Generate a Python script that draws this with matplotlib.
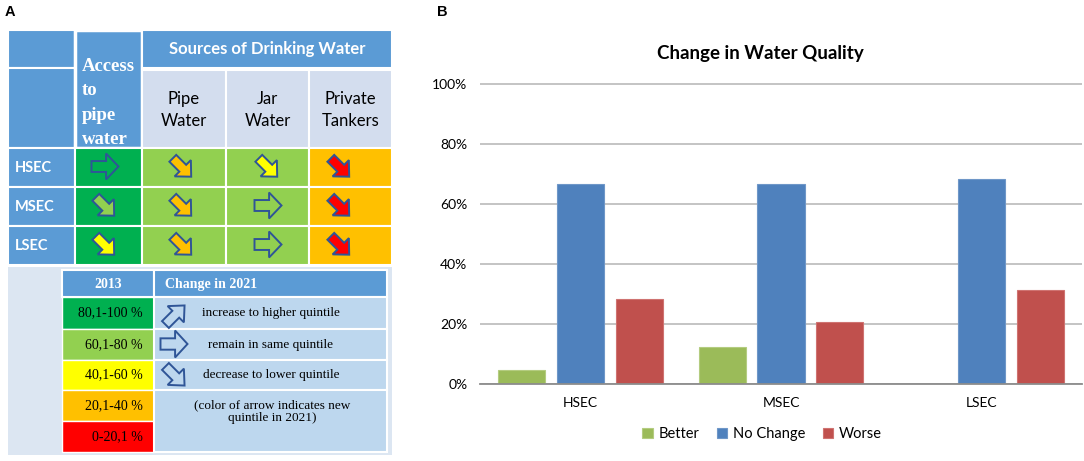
import numpy as np
import matplotlib
matplotlib.use("Agg")
import matplotlib.pyplot as plt
from matplotlib.patches import Rectangle, Polygon
from matplotlib.ticker import PercentFormatter

# ---- data: panel A (quintiles 1=lowest .. 5=highest) ----
groups = ["HSEC", "MSEC", "LSEC"]
columns = ["Access to pipe water", "Pipe\nWater", "Jar\nWater", "Private\nTankers"]
quintile_2013 = [[5, 4, 4, 2],
                 [5, 4, 4, 2],
                 [5, 4, 4, 2]]
quintile_2021 = [[5, 2, 3, 1],
                 [4, 2, 4, 1],
                 [3, 2, 4, 1]]
quintile_labels = ["0-20,1 %", "20,1-40 %", "40,1-60 %", "60,1-80 %", "80,1-100 %"]
change_labels = ["increase to higher quintile", "remain in same quintile",
                 "decrease to lower quintile"]

# ---- data: panel B ----
categories = ["HSEC", "MSEC", "LSEC"]
better = [0.048, 0.123, 0.0]
no_change = [0.667, 0.667, 0.683]
worse = [0.285, 0.206, 0.315]

# colours
q_colors = {1: "#FF0000", 2: "#FFC000", 3: "#FFFF00", 4: "#92D050", 5: "#00B050"}
blue_head = "#5B9BD5"
light_head = "#D3DDEE"
legend_bg = "#DCE6F2"
legend_cell = "#BDD7EE"
arrow_edge = "#2F5597"

fig = plt.figure(figsize=(10.84, 4.61), dpi=100)

# ================= panel A (pixel coordinates) =================
ax = fig.add_axes([0, 0, 400 / 1084, 1])
ax.set_xlim(0, 400)
ax.set_ylim(461, 0)
ax.axis("off")

sans = "Lato"
serif = "Liberation Serif"


def rect(x0, y0, x1, y1, color, lw=1.5, ec="white"):
    ax.add_patch(Rectangle((x0, y0), x1 - x0, y1 - y0, facecolor=color,
                           edgecolor=ec, linewidth=lw))


def arrow(cx, cy, length, width, angle, face):
    pts = np.array([(-0.5, -0.21), (0.04, -0.21), (0.04, -0.5), (0.5, 0),
                    (0.04, 0.5), (0.04, 0.21), (-0.5, 0.21)])
    pts = pts * [length, width]
    a = np.deg2rad(angle)
    rot = np.array([[np.cos(a), -np.sin(a)], [np.sin(a), np.cos(a)]])
    pts = pts @ rot.T + [cx, cy]
    ax.add_patch(Polygon(pts, closed=True, facecolor=face, edgecolor=arrow_edge,
                         linewidth=1.4, joinstyle="miter", zorder=5))


col_edges = [8, 75, 142, 226, 309, 392]
row_edges = [148, 187, 226, 265]

# header
rect(col_edges[0], 30, col_edges[1], 68, blue_head)
rect(col_edges[0], 68, col_edges[1], 148, blue_head)
rect(col_edges[1], 30, col_edges[2], 148, blue_head, lw=2.5)
rect(col_edges[2], 30, col_edges[5], 68, blue_head)
ax.text((col_edges[2] + col_edges[5]) / 2, 49, "Sources of Drinking Water",
        color="white", fontsize=12, fontweight="bold", family=sans,
        ha="center", va="center")
ax.text(82, 103, "Access\nto\npipe\nwater", color="white", fontsize=13.5,
        fontweight="bold", family=serif, ha="left", va="center", linespacing=1.55)
for j in range(1, 4):
    rect(col_edges[j + 1], 70, col_edges[j + 2], 148, light_head)
    ax.text((col_edges[j + 1] + col_edges[j + 2]) / 2, 110, columns[j],
            color="black", fontsize=12, family=sans, ha="center", va="center",
            linespacing=1.5)

# body
arrow_x = [105, 182, 268, 340]
for i, g in enumerate(groups):
    y0, y1 = row_edges[i], row_edges[i + 1]
    cy = (y0 + y1) / 2
    rect(col_edges[0], y0, col_edges[1], y1, blue_head)
    ax.text(15, cy, g, color="white", fontsize=10.5, fontweight="bold",
            family=sans, ha="left", va="center")
    for j in range(4):
        q0 = quintile_2013[i][j]
        q1 = quintile_2021[i][j]
        rect(col_edges[j + 1], y0, col_edges[j + 2], y1, q_colors[q0])
        if q1 == q0:
            arrow(arrow_x[j], cy - 1, 27, 26, 0, q_colors[q1])
        elif q1 < q0:
            arrow(arrow_x[j], cy, 26, 23, 45, q_colors[q1])
        else:
            arrow(arrow_x[j], cy, 26, 23, -45, q_colors[q1])

# legend block
rect(8, 267, 392, 455, legend_bg, lw=0)
rect(62, 270, 154, 297, blue_head)
rect(154, 270, 387, 297, blue_head)
ax.text(108, 284, "2013", color="white", fontsize=10, fontweight="bold",
        family=serif, ha="center", va="center")
ax.text(165, 284, "Change in 2021", color="white", fontsize=10,
        fontweight="bold", family=serif, ha="left", va="center")

leg_rows = [(297, 329), (329, 360), (360, 390), (390, 421), (421, 452)]
for k, (y0, y1) in enumerate(leg_rows):
    q = 5 - k
    rect(62, y0, 154, y1, q_colors[q], lw=1)
    ax.text(143, (y0 + y1) / 2, quintile_labels[q - 1], color="black",
            fontsize=10, family=serif, ha="right", va="center")

for k in range(3):
    y0, y1 = leg_rows[k]
    rect(154, y0, 387, y1, legend_cell)
    ax.text(271, (y0 + y1) / 2, change_labels[k], color="black", fontsize=9.5,
            family=serif, ha="center", va="center")
rect(154, leg_rows[3][0], 387, leg_rows[4][1], legend_cell)
ax.text(272, 412, "(color of arrow indicates new\nquintile in 2021)",
        color="black", fontsize=9.5, family=serif, ha="center", va="center",
        linespacing=1.1)
arrow(175, 315, 27, 23, -45, legend_cell)
arrow(174, 344, 27, 27, 0, legend_cell)
arrow(175, 376, 27, 23, 45, legend_cell)

ax.text(5, 12, "A", fontsize=10.5, fontweight="bold", family="Liberation Sans",
        ha="left", va="center")

# ================= panel B =================
fig.text(437 / 1084, 1 - 12 / 461, "B", fontsize=10.5, fontweight="bold",
         family="Liberation Sans", ha="left", va="center")

axb = fig.add_axes([480 / 1084, 77 / 461, 602 / 1084, 301 / 461])
x = np.arange(len(categories))
series = [("Better", better, "#9BBB59", "#b4cc80"),
          ("No Change", no_change, "#4F81BD", "#6f97c8"),
          ("Worse", worse, "#C0504D", "#cf7371")]
for k, (name, vals, c, ec) in enumerate(series):
    axb.bar(x + (k - 1) * 0.293, vals, 0.235, color=c, edgecolor=ec,
            linewidth=0.8, label=name, zorder=3)

axb.set_xlim(-0.5, 2.5)
axb.set_ylim(0, 1.004)
axb.set_yticks(np.arange(0, 1.01, 0.2))
axb.yaxis.set_major_formatter(PercentFormatter(1.0, decimals=0))
axb.set_xticks(x)
axb.set_xticklabels(categories)
axb.grid(axis="y", color="#BFBFBF", linewidth=1.3, zorder=0)
axb.tick_params(length=0, labelsize=10, pad=9)
for lab in axb.get_xticklabels() + axb.get_yticklabels():
    lab.set_family(sans)
for s in ["top", "right", "left"]:
    axb.spines[s].set_visible(False)
axb.spines["bottom"].set_color("#8C8C8C")
axb.spines["bottom"].set_linewidth(1.3)
axb.spines["bottom"].set_zorder(4)

fig.text(760 / 1084, 1 - 54 / 461, "Change in Water Quality", fontsize=13.5,
         fontweight="bold", family=sans, ha="center", va="center")
fig.legend(loc="center", bbox_to_anchor=(762 / 1084, 1 - 434 / 461), ncol=3,
           frameon=False, handlelength=0.7, handleheight=0.7,
           columnspacing=1.2, handletextpad=0.4,
           prop={"family": sans, "size": 10.5})

fig.savefig("out.png", dpi=100)
